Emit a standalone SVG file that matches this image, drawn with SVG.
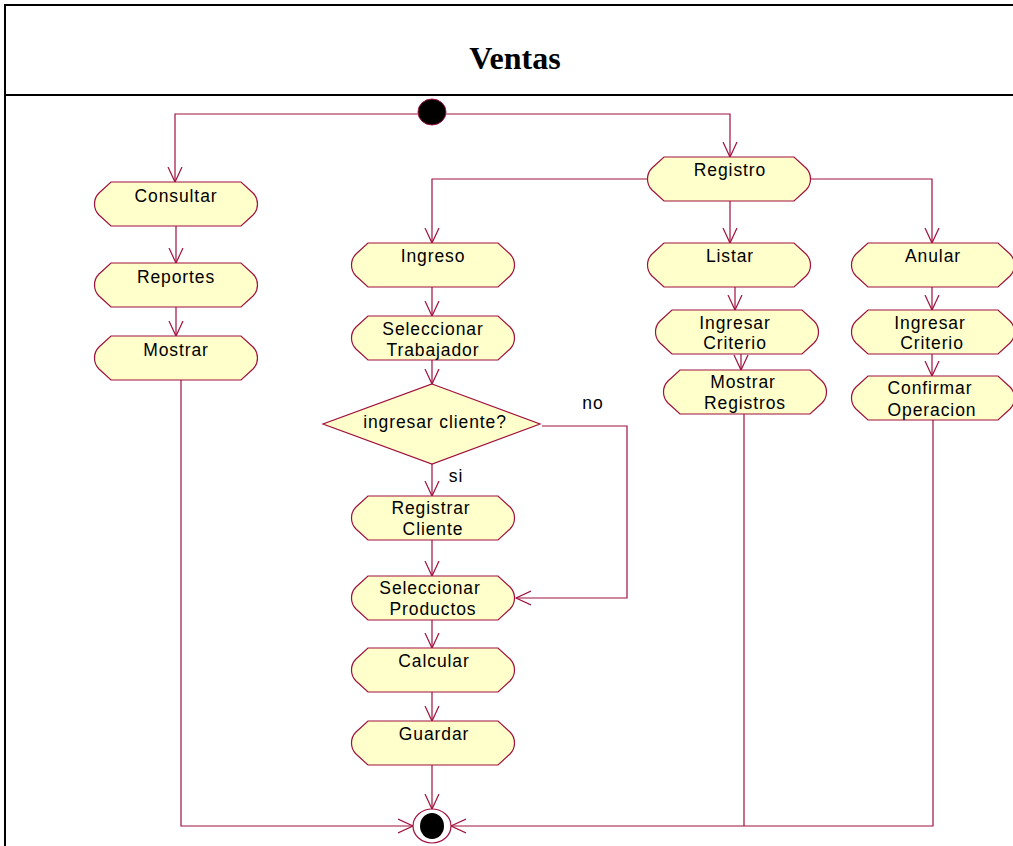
<svg xmlns="http://www.w3.org/2000/svg" xmlns:xlink="http://www.w3.org/1999/xlink" width="1013" height="846" viewBox="0 0 1013 846">
<defs>
<style>
.n{fill:#FFFFCC;stroke:#A0103C;stroke-width:1.2}
.t{font-family:"Liberation Sans",Arial,sans-serif;font-size:17.5px;letter-spacing:0.9px;text-anchor:middle;fill:#000}
.c{fill:none;stroke:#A0103C;stroke-width:1.2}
</style>
<path id="act" d="M17,0 H147 L159,11 C165,17 165,27 159,33 L147,44 H17 L5,33 C-1,27 -1,17 5,11 Z"/>
<marker id="a" markerUnits="userSpaceOnUse" markerWidth="18" markerHeight="18" refX="15" refY="8" orient="auto" viewBox="0 0 18 16">
<path d="M0,1 L15,8 L0,15" fill="none" stroke="#A0103C" stroke-width="1.2"/>
</marker>
</defs>
<rect width="1013" height="846" fill="#fff"/>
<g id="frame">
<rect x="5" y="5" width="1020" height="860" fill="none" stroke="#000" stroke-width="2"/>
<line x1="5" y1="95" x2="1020" y2="95" stroke="#000" stroke-width="2"/>
<text x="515" y="69" font-family="Liberation Serif,'Times New Roman',serif" font-size="32" font-weight="bold" text-anchor="middle">Ventas</text>
</g>
<g id="connectors">
<path class="c" d="M418,114 H175 V182" marker-end="url(#a)"/>
<path class="c" d="M446,114 H730 V157" marker-end="url(#a)"/>
<path class="c" d="M176,226 V263" marker-end="url(#a)"/>
<path class="c" d="M176,307 V336" marker-end="url(#a)"/>
<path class="c" d="M181,380 V826 H413" marker-end="url(#a)"/>
<path class="c" d="M647,179 H432 V243" marker-end="url(#a)"/>
<path class="c" d="M730,201 V243" marker-end="url(#a)"/>
<path class="c" d="M811,179 H932 V243" marker-end="url(#a)"/>
<path class="c" d="M432,287 V316" marker-end="url(#a)"/>
<path class="c" d="M432,360 V384" marker-end="url(#a)"/>
<path class="c" d="M432,464 V496" marker-end="url(#a)"/>
<path class="c" d="M542,426 H627 V598 H516" marker-end="url(#a)"/>
<path class="c" d="M432,540 V576" marker-end="url(#a)"/>
<path class="c" d="M432,620 V648" marker-end="url(#a)"/>
<path class="c" d="M432,692 V721" marker-end="url(#a)"/>
<path class="c" d="M432,765 V809" marker-end="url(#a)"/>
<path class="c" d="M735,287 V310" marker-end="url(#a)"/>
<path class="c" d="M741,354 V370" marker-end="url(#a)"/>
<path class="c" d="M744,414 V826"/>
<path class="c" d="M933,420 V826 H451" marker-end="url(#a)"/>
<path class="c" d="M932,287 V310" marker-end="url(#a)"/>
<path class="c" d="M932,354 V376" marker-end="url(#a)"/>
<text class="t" x="593" y="409">no</text>
<text class="t" x="456" y="482">si</text>
</g>
<g id="start"><ellipse cx="432" cy="112" rx="14" ry="13" fill="#000" stroke="#A0103C"/></g>
<g id="end"><ellipse cx="432" cy="826" rx="19" ry="17" fill="#fff" stroke="#A0103C" stroke-width="1.2"/><ellipse cx="432" cy="826" rx="12" ry="13" fill="#000"/></g>
<g id="consultar"><use xlink:href="#act" class="n" x="94" y="182"/><text class="t" x="176" y="202">Consultar</text></g>
<g id="reportes"><use xlink:href="#act" class="n" x="94" y="263"/><text class="t" x="176" y="283">Reportes</text></g>
<g id="mostrar"><use xlink:href="#act" class="n" x="94" y="336"/><text class="t" x="176" y="356">Mostrar</text></g>
<g id="registro"><use xlink:href="#act" class="n" x="647" y="157"/><text class="t" x="730" y="176">Registro</text></g>
<g id="ingreso"><use xlink:href="#act" class="n" x="351" y="243"/><text class="t" x="433" y="262">Ingreso</text></g>
<g id="selTrab"><use xlink:href="#act" class="n" x="351" y="316"/><text class="t" x="433" y="335">Seleccionar</text><text class="t" x="433" y="356">Trabajador</text></g>
<g id="decision"><polygon class="n" points="432,384 540,424 432,464 323,424"/><text class="t" x="435" y="428">ingresar cliente?</text></g>
<g id="regCliente"><use xlink:href="#act" class="n" x="351" y="496"/><text class="t" x="431" y="514">Registrar</text><text class="t" x="433" y="535">Cliente</text></g>
<g id="selProd"><use xlink:href="#act" class="n" x="351" y="576"/><text class="t" x="430" y="594">Seleccionar</text><text class="t" x="433" y="615">Productos</text></g>
<g id="calcular"><use xlink:href="#act" class="n" x="351" y="648"/><text class="t" x="434" y="667">Calcular</text></g>
<g id="guardar"><use xlink:href="#act" class="n" x="351" y="721"/><text class="t" x="434" y="740">Guardar</text></g>
<g id="listar"><use xlink:href="#act" class="n" x="647" y="243"/><text class="t" x="730" y="262">Listar</text></g>
<g id="ingCrit1"><use xlink:href="#act" class="n" x="655" y="310"/><text class="t" x="735" y="329">Ingresar</text><text class="t" x="735" y="349">Criterio</text></g>
<g id="mostrarReg"><use xlink:href="#act" class="n" x="663" y="370"/><text class="t" x="743" y="388">Mostrar</text><text class="t" x="745" y="409">Registros</text></g>
<g id="anular"><use xlink:href="#act" class="n" x="851" y="243"/><text class="t" x="933" y="262">Anular</text></g>
<g id="ingCrit2"><use xlink:href="#act" class="n" x="851" y="310"/><text class="t" x="930" y="329">Ingresar</text><text class="t" x="932" y="349">Criterio</text></g>
<g id="confirmar"><use xlink:href="#act" class="n" x="851" y="376"/><text class="t" x="930" y="394">Confirmar</text><text class="t" x="932" y="416">Operacion</text></g>
</svg>
